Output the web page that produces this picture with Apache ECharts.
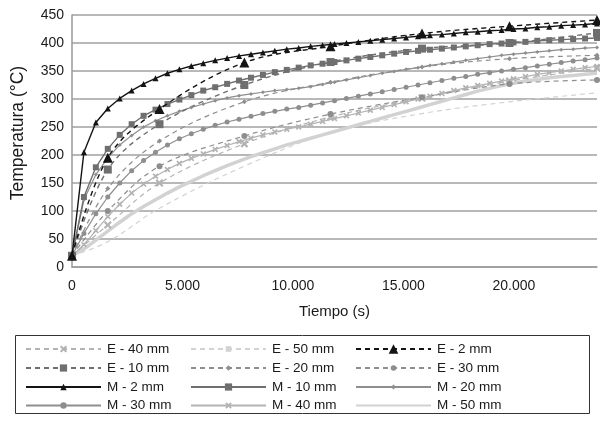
<!DOCTYPE html>
<html><head><meta charset="utf-8">
<script src="https://cdn.jsdelivr.net/npm/echarts@6/dist/echarts.min.js"></script>
<style>html,body{margin:0;padding:0;background:#fff}#c{width:600px;height:423px}</style>
</head><body><div id="c"></div>
<script>
var mTime = [0,540,1080,1620,2160,2700,3240,3780,4320,4860,5400,5940,6480,7020,7560,8100,8640,9180,9720,10260,10800,11340,11880,12420,12960,13500,14040,14580,15120,15660,16200,16740,17280,17820,18360,18900,19440,19980,20520,21060,21600,22140,22680,23220,23760];
var eTime = [0,1620,3960,7800,11700,15840,19800,23760];

var M2  = [20,205,258,283,301,315,327,337,346,353,359,364,369,373,377,380,383,386,389,391,394,396,398,400,402,404,406,408,410,412,414,415,417,419,420,422,423,425,426,428,429,431,432,433,435];
var M10 = [20,125,178,211,236,255,270,281,291,299,307,315,321,327,333,338,343,348,352,356,360,363,366,369,372,375,378,381,384,386,388,390,392,394,396,398,399,401,402,404,405,406,407,408,409];
var M20 = [20,120,165,195,218,235,250,261,270,278,285,291,297,302,306,309,312,315,317,319,322,326,330,334,338,342,346,349,353,356,360,363,366,369,372,375,378,380,382,384,386,388,389,391,392];
var M30 = [20,60,95,125,150,172,190,205,218,229,238,246,253,259,264,269,274,278,282,285,289,293,297,301,305,309,313,317,321,325,329,333,337,340,344,347,350,353,356,359,362,365,368,370,373];
var M40 = [20,40,65,90,112,132,148,162,174,185,194,202,210,217,224,230,236,241,246,250,255,260,265,270,275,280,285,290,295,300,305,310,315,320,324,328,332,336,340,344,347,350,353,356,358];
var M50 = [20,32,48,64,80,95,108,120,132,143,153,163,172,181,189,197,204,211,218,224,230,236,242,248,254,260,266,272,278,284,290,296,302,308,314,319,324,328,332,335,338,340,342,344,346];

var E2  = [20,195,282,365,394,417,430,441];
var E10 = [20,174,255,325,366,390,400,418];
var E20 = [20,140,225,295,330,357,372,378];
var E30 = [20,100,180,234,273,303,327,334];
var E40 = [20,75,150,220,268,302,332,355];
var E50 = [20,45,105,180,240,274,295,311];

var yTicks = [0,50,100,150,200,250,300,350,400,450];
var xTicks = [0,5000,10000,15000,20000];

var legendCol1 = ['E - 40 mm','E - 10 mm','M - 2 mm','M - 30 mm'];
var legendCol2 = ['E - 50 mm','E - 20 mm','M - 10 mm','M - 40 mm'];
var legendCol3 = ['E - 2 mm','E - 30 mm','M - 20 mm','M - 50 mm'];

function pairs(t, v){ return t.map(function(x,i){ return [x, v[i]]; }); }

var FONT = 'Liberation Sans, Arial, sans-serif';
var cross = 'path://M2,0 L5,3 L8,0 L10,2 L7,5 L10,8 L8,10 L5,7 L2,10 L0,8 L3,5 L0,2 Z';
var C = {black:'#141414', dark:'#6f6f6f', mid:'#8e8e8e', light:'#b3b3b3', pale:'#d2d2d2'};

function S(name, t, v, color, dashed, symbol, size, width, z){
  return {
    name: name, type: 'line', data: pairs(t, v), smooth: dashed ? 0.35 : false,
    symbol: symbol, symbolSize: size, showSymbol: size > 0,
    lineStyle: {color: color, width: width, type: dashed ? [5,4] : 'solid'},
    itemStyle: {color: color},
    emphasis: {disabled: true}, animation: false, z: z || 2
  };
}

var series = [
  S('M - 50 mm', mTime, M50, C.pale, false, 'circle', 0, 3.5, 1),
  S('E - 50 mm', eTime, E50, C.pale, true, 'rect', [7,3], 1.2),
  S('E - 40 mm', eTime, E40, C.light, true, cross, 8, 1.2),
  S('M - 40 mm', mTime, M40, C.light, false, cross, 6, 1.2),
  S('E - 30 mm', eTime, E30, C.mid, true, 'circle', 6, 1.2),
  S('M - 30 mm', mTime, M30, C.mid, false, 'circle', 5, 1.2),
  S('E - 20 mm', eTime, E20, C.mid, true, 'diamond', 5, 1.2),
  S('M - 20 mm', mTime, M20, C.mid, false, 'diamond', 4, 1.2),
  S('E - 10 mm', eTime, E10, C.dark, true, 'rect', 8, 1.4),
  S('M - 10 mm', mTime, M10, C.dark, false, 'rect', 6, 1.4),
  S('E - 2 mm', eTime, E2, C.black, true, 'triangle', 10, 1.4, 3),
  S('M - 2 mm', mTime, M2, C.black, false, 'triangle', 6, 1.4, 3)
];

// icon height per legend entry (symbol is 80% of it)
var iconH = {'E - 40 mm':9,'E - 10 mm':9,'M - 2 mm':8,'M - 30 mm':8,'E - 50 mm':7,'E - 20 mm':7,
             'M - 10 mm':9,'M - 40 mm':8,'E - 2 mm':12,'E - 30 mm':7,'M - 20 mm':6,'M - 50 mm':8};
var colLeft = [25, 190, 355];
var rowCenter = [348, 367, 386, 404.5];

var legends = [];
[legendCol1, legendCol2, legendCol3].forEach(function(col, ci){
  col.forEach(function(name, ri){
    var item = {name: name};
    if (name === 'M - 50 mm') item.itemStyle = {color: 'rgba(0,0,0,0)', opacity: 0, borderWidth: 0};
    legends.push({
      orient: 'horizontal', left: colLeft[ci], top: rowCenter[ri] - 6, padding: 0,
      itemWidth: 75, itemHeight: iconH[name], selectedMode: false, data: [item],
      textStyle: {fontFamily: FONT, fontSize: 13.5, lineHeight: 12, color: '#1a1a1a', padding: [0,0,0,1]}
    });
  });
});

var chart = echarts.init(document.getElementById('c'), null, {renderer: 'canvas'});
chart.setOption({
  animation: false,
  backgroundColor: '#fff',
  grid: {left: 72, right: 2, top: 15, bottom: 156, containLabel: false},
  xAxis: {
    type: 'value', min: 0, max: 23760, interval: 5000,
    name: 'Tiempo (s)', nameLocation: 'middle', nameGap: 37,
    nameTextStyle: {fontFamily: FONT, fontSize: 15, color: '#1a1a1a'},
    axisLine: {lineStyle: {color: '#9a9a9a', width: 1.5}},
    axisTick: {show: false},
    splitLine: {show: false},
    axisLabel: {
      fontFamily: FONT, fontSize: 14, color: '#1a1a1a', margin: 12,
      formatter: function(v){ if (xTicks.indexOf(v) < 0) return ''; return String(v).replace(/\B(?=(\d{3})+(?!\d))/g, '.'); }
    }
  },
  yAxis: {
    type: 'value', min: 0, max: 450, interval: 50,
    axisLine: {show: true, lineStyle: {color: '#9a9a9a', width: 1.5}},
    axisTick: {show: false},
    splitLine: {show: true, lineStyle: {color: '#a0a0a0', width: 1.5}},
    axisLabel: {
      fontFamily: FONT, fontSize: 14, color: '#1a1a1a', margin: 8,
      formatter: function(v){ return yTicks.indexOf(v) >= 0 ? String(v) : ''; }
    }
  },
  legend: legends,
  graphic: [{
    type: 'rect', left: 13, top: 333, shape: {width: 574, height: 78},
    style: {fill: 'none', stroke: '#333', lineWidth: 1}, silent: true
  }, {
    type: 'text', x: 18, y: 133, rotation: Math.PI / 2, silent: true,
    style: {text: 'Temperatura (°C)', fontFamily: FONT, fontSize: 17.5, fill: '#1a1a1a', align: 'center', verticalAlign: 'middle'}
  }],
  series: series
});
</script></body></html>
